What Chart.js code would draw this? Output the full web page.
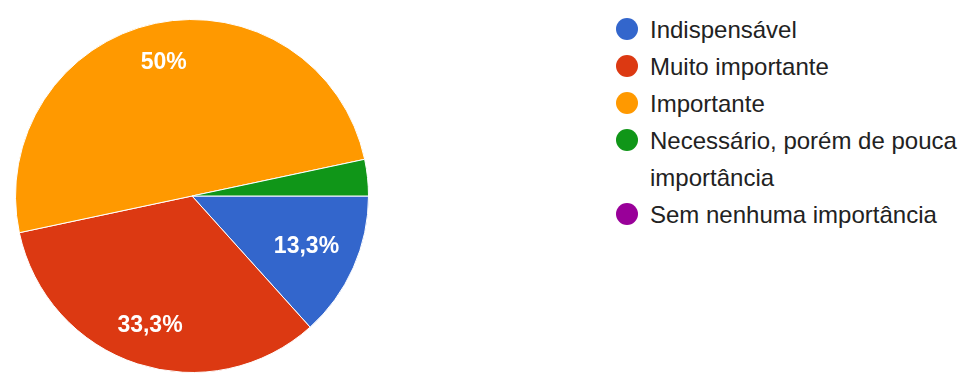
<!DOCTYPE html>
<html lang="pt">
<head>
    <meta charset="UTF-8">
    <title>Importância</title>
    <script src="https://cdn.jsdelivr.net/npm/chart.js"></script>
    <style>
        body { margin: 0; background: #fff; width: 967px; height: 374px; overflow: hidden; position: relative; }
        #chartBox { position: absolute; left: 0; top: 0; width: 384px; height: 374px; }
        #legend { position: absolute; left: 616px; top: 11px; margin: 0; padding: 0; list-style: none;
                  font-family: "Liberation Sans", Arial, sans-serif; font-size: 24px; color: #222; }
        #legend li { display: flex; align-items: flex-start; line-height: 37px; }
        #legend .dot { flex: none; width: 22px; height: 22px; border-radius: 50%; margin: 7px 12px 0 0; }
        #legend .txt { width: 316px; }
    </style>
</head>
<body>

<div id="chartBox">
    <canvas id="myChart"></canvas>
</div>
<ul id="legend"></ul>

<script>
    // respostas (30 no total)
    const categories = ['Indispensável', 'Muito importante', 'Importante', 'Necessário, porém de pouca importância', 'Sem nenhuma importância'];
    const responses = [4, 10, 15, 1, 0];

    const sliceColors = ['#3366cc', '#dc3912', '#ff9900', '#109618', '#990099'];

    // 13.333 -> "13,3%", 50 -> "50%"
    function formatPct(p) {
        const s = (Math.round(p * 10) / 10).toString();
        return s.replace('.', ',') + '%';
    }

    // percentuais dentro das fatias (fatias com menos de 5% ficam sem texto)
    const sliceLabels = {
        id: 'sliceLabels',
        afterDatasetsDraw(chart) {
            const ctx = chart.ctx;
            const ds = chart.data.datasets[0];
            const total = ds.data.reduce((a, b) => a + b, 0);
            const meta = chart.getDatasetMeta(0);
            ctx.save();
            ctx.font = 'bold 23px "Liberation Sans", Arial, sans-serif';
            ctx.fillStyle = '#fff';
            ctx.textAlign = 'center';
            ctx.textBaseline = 'middle';
            meta.data.forEach((arc, i) => {
                const pct = ds.data[i] / total * 100;
                if (pct < 5) return;
                const text = formatPct(pct);
                const p = arc.getProps(['x', 'y', 'startAngle', 'endAngle', 'outerRadius'], true);
                const mid = (p.startAngle + p.endAngle) / 2;
                const hw = ctx.measureText(text).width / 2, hh = 9;
                let f = 0.77, lx, ly;
                // puxa o texto para dentro até caber no círculo
                while (true) {
                    lx = p.x + Math.cos(mid) * p.outerRadius * f;
                    ly = p.y + Math.sin(mid) * p.outerRadius * f;
                    const far = Math.max(
                        Math.hypot(lx - hw - p.x, ly - hh - p.y),
                        Math.hypot(lx + hw - p.x, ly - hh - p.y),
                        Math.hypot(lx - hw - p.x, ly + hh - p.y),
                        Math.hypot(lx + hw - p.x, ly + hh - p.y));
                    if (far <= p.outerRadius * 0.9 || f < 0.4) break;
                    f -= 0.01;
                }
                ctx.fillText(text, lx, ly);
            });
            ctx.restore();
        }
    };

    const chart = new Chart(document.querySelector('#myChart'), {
        type: 'pie',
        data: {
            labels: categories,
            datasets: [{
                data: responses,
                backgroundColor: sliceColors,
                borderColor: '#fff',
                borderWidth: 1
            }]
        },
        options: {
            responsive: true,
            maintainAspectRatio: false,
            animation: false,
            rotation: 90,
            layout: { padding: { top: 19, bottom: 1, left: 0, right: 0 } },
            plugins: {
                legend: { display: false },
                tooltip: { enabled: false }
            }
        },
        plugins: [sliceLabels]
    });

    // legenda em HTML (quebra a linha do item longo)
    const legend = document.getElementById('legend');
    chart.data.labels.forEach((label, i) => {
        const li = document.createElement('li');
        const dot = document.createElement('span');
        dot.className = 'dot';
        dot.style.background = chart.data.datasets[0].backgroundColor[i];
        const txt = document.createElement('span');
        txt.className = 'txt';
        txt.textContent = label;
        li.appendChild(dot);
        li.appendChild(txt);
        legend.appendChild(li);
    });
</script>
</body>
</html>
